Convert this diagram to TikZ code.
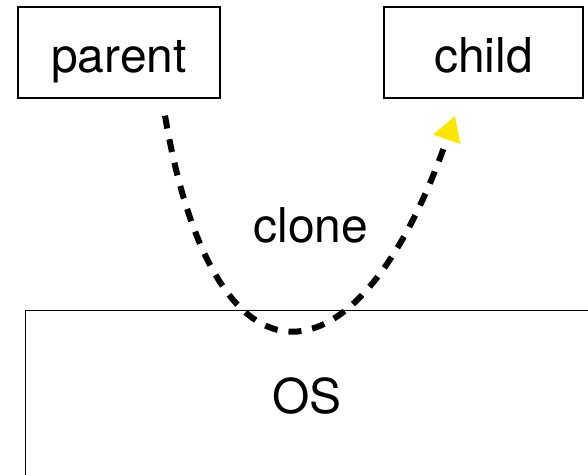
\documentclass[tikz,border=0pt]{standalone}
\usepackage{fontspec}
\setmainfont{TeX Gyre Heros}
\usetikzlibrary{arrows.meta}
\definecolor{tipyellow}{HTML}{FFE600}

\begin{document}
\begin{tikzpicture}[x=1pt, y=-1pt,
    procbox/.style={rectangle, draw, line width=1.3pt, inner sep=0pt, text height=39pt, text depth=0pt, font=\fontsize{48}{52}\selectfont},
    label/.style={font=\fontsize{48}{52}\selectfont}]
  \clip (0,0) rectangle (588,474);
  \node[procbox, minimum width=202pt, minimum height=91pt] (parent) at (119,52.5) {parent};
  \node[procbox, minimum width=199pt, minimum height=91pt] (child) at (483.5,52.5) {child};
  \node[procbox, line width=1pt, minimum width=564pt, minimum height=168pt] (os) at (307,394) {OS};
  \node[label, anchor=base] (clone) at (311,242) {clone};
  \draw[line width=6pt, dash pattern=on 13pt off 11pt,
        -{Triangle[length=25pt, width=27pt, color=tipyellow]}]
    ([xshift=46pt, yshift=-17pt]parent.south) .. controls (215,410) and (360,390) .. ([xshift=-28.5pt, yshift=-17pt]child.south);
\end{tikzpicture}
\end{document}
